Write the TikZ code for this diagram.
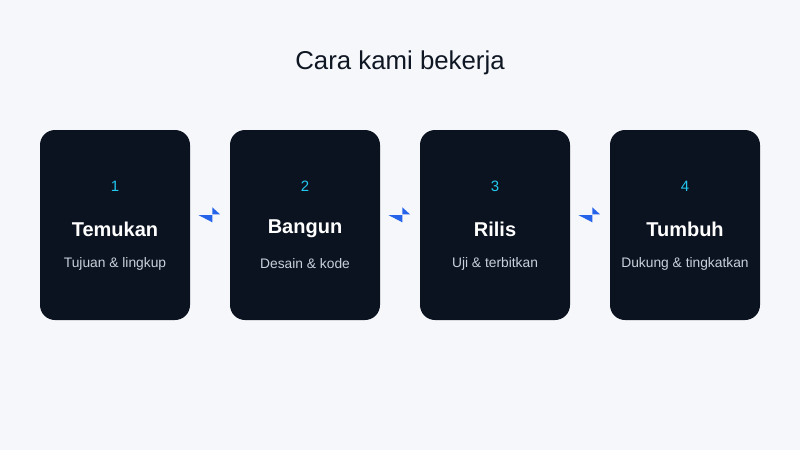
\documentclass[tikz,border=0pt]{standalone}
\usepackage{fontspec}
\setmainfont{Liberation Sans}
\usetikzlibrary{calc}
\definecolor{bg}{HTML}{F6F7FA}
\definecolor{card}{HTML}{0C1320}
\definecolor{num}{HTML}{22C8EE}
\definecolor{sub}{HTML}{C8D0DC}
\definecolor{head}{HTML}{0F1724}
\definecolor{bolt}{HTML}{2563EB}
\tikzset{
  card/.style={fill=card, rounded corners=15pt, minimum width=150pt, minimum height=190pt, inner sep=0pt},
  numtxt/.style={text=num, font=\fontsize{15}{18}\selectfont, inner sep=0pt},
  titletxt/.style={text=white, font=\fontsize{20}{24}\selectfont\bfseries, inner sep=0pt},
  subtxt/.style={text=sub, font=\fontsize{13.8}{16}\selectfont, inner sep=0pt},
  boltshape/.style={fill=bolt, draw=none}
}
\newcommand{\boltat}[1]{%
  \fill[boltshape] ($(#1)+(-11.7,0)$) -- ($(#1)+(2.3,0)$) -- ($(#1)+(2.3,7.3)$) -- cycle;
  \fill[boltshape] ($(#1)+(2.3,-7.7)$) -- ($(#1)+(10,-0.7)$) -- ($(#1)+(2.3,-0.7)$) -- cycle;
}
\begin{document}
\begin{tikzpicture}[x=1pt,y=-1pt]
\fill[bg] (0,0) rectangle (800,450);
\useasboundingbox (0,0) rectangle (800,450);
\node[text=head, font=\fontsize{25.8}{30}\selectfont, inner sep=0pt] (title) at (400,63) {Cara kami bekerja};
\foreach \i/\x/\t/\s in {1/115/Temukan/Tujuan \& lingkup, 2/305/Bangun/Desain \& kode, 3/495/Rilis/Uji \& terbitkan, 4/685/Tumbuh/Dukung \& tingkatkan}{
  \node[card] (b\i) at (\x,225) {};
  \node[numtxt] (n\i) at (\x,186) {\i};
  \node[titletxt] (t\i) at (\x,229) {\t};
  \node[subtxt] (s\i) at (\x,264) {\s};
}
\foreach \a/\b in {1/2,2/3,3/4}{
  \coordinate (c\a) at ($($(b\a.east)!0.5!(b\b.west)$)+(0,-10)$);
  \boltat{c\a}
}
\end{tikzpicture}
\end{document}
